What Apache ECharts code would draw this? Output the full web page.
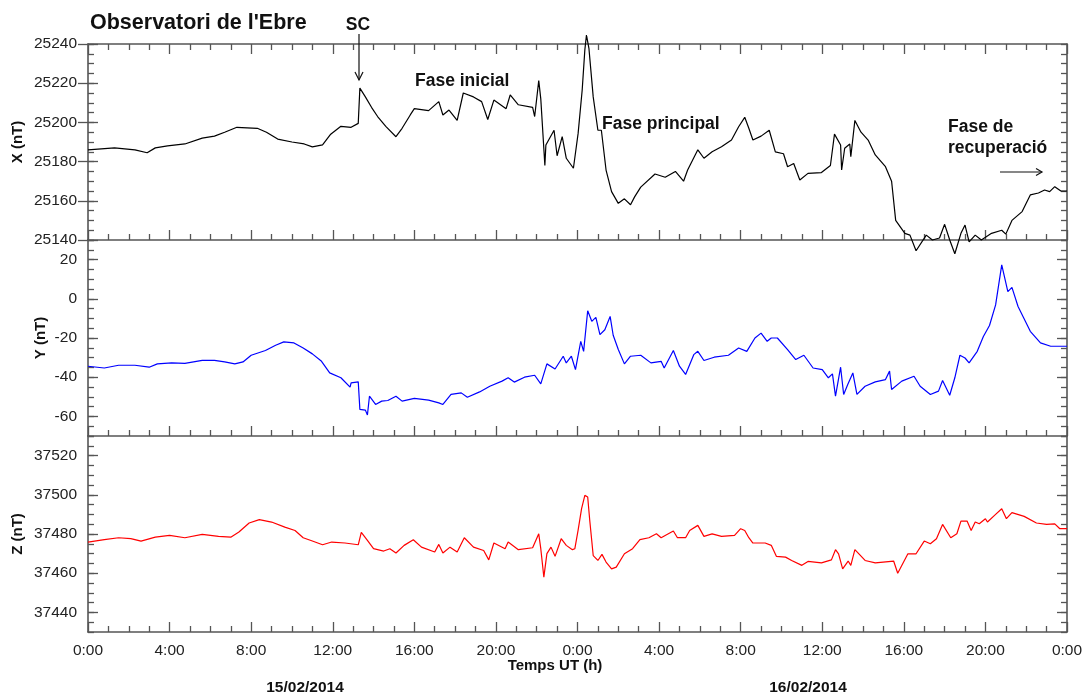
<!DOCTYPE html>
<html><head><meta charset="utf-8">
<script src="https://cdn.jsdelivr.net/npm/echarts@6/dist/echarts.min.js"></script>
<style>html,body{margin:0;padding:0;background:#fff}#c{width:1086px;height:697px}</style>
</head><body><div id="c"></div>
<script>
// ---- data (hours since 15/02/2014 0:00 UT, field in nT) ----
const xHours = [0,1.3,2.3,2.9,3.3,3.9,4.75,5.6,6.2,6.7,7.3,8.3,8.75,9.3,10,10.6,11,11.5,11.9,12.4,12.9,13.25,13.33,13.6,13.9,14.2,14.6,15.1,15.4,15.8,16.0,16.7,17.2,17.4,17.7,18.1,18.4,18.9,19.3,19.6,19.9,20.5,20.7,21.1,21.8,21.9,22.1,22.2,22.4,22.45,22.85,23.0,23.25,23.45,23.8,24.03,24.23,24.36,24.44,24.56,24.77,25.0,25.17,25.4,25.67,26.0,26.3,26.6,26.8,27.1,27.8,28.3,28.8,29.2,29.4,29.9,30.2,30.6,31.06,31.55,31.9,32.2,32.4,32.6,33.0,33.4,33.7,34.1,34.3,34.6,34.9,35.3,35.96,36.4,36.6,36.9,36.95,37.1,37.35,37.4,37.6,37.9,38.25,38.6,39.1,39.4,39.6,40.05,40.3,40.6,41.1,41.4,41.75,42.0,42.25,42.5,42.8,43.0,43.2,43.5,43.8,44.3,44.8,45.0,45.3,45.8,46.2,46.6,46.9,47.15,47.4,47.7,48];
const xValues = [25186,25187,25186,25184.5,25187,25188,25189,25192,25193,25195,25197.5,25197,25195,25191.5,25190,25189,25187.5,25188.5,25194,25198,25197.5,25199.5,25217.5,25213,25207.7,25203,25198,25192.7,25197,25203.8,25207,25206,25210.6,25203.8,25206.3,25201,25215,25213,25210.6,25201.5,25211.4,25207,25214,25209,25207.7,25203,25221.3,25212,25178,25188.5,25196,25183,25192.7,25181.7,25176.6,25194.4,25216.5,25237,25244.6,25237.8,25213,25196,25196,25175.7,25164.7,25158.7,25161,25158,25162,25167,25173.7,25172,25175,25170,25175.7,25186,25181.7,25185,25187.6,25191,25197.8,25202.6,25197,25191,25193,25196,25185,25184,25177.4,25179,25170.6,25174,25174.4,25178,25194,25188.5,25175.7,25186.8,25189,25182.5,25201,25195,25191,25183.4,25177.4,25170,25150,25143.4,25142.5,25134.5,25142.5,25140,25141,25148,25140,25133,25143.4,25147.6,25139,25142.5,25140,25143.4,25145,25143,25150,25154.5,25163,25164,25165.5,25164.7,25167.2,25165,25165];

const yHours = [0,0.8,1.5,2.3,3.0,3.4,4.1,4.75,5.6,6.2,6.7,7.2,7.6,8.0,8.7,9.2,9.6,10.1,10.55,11.0,11.45,11.85,12.4,12.85,12.9,13.25,13.33,13.6,13.7,13.8,14.1,14.4,14.7,15.1,15.4,16.0,16.7,17.2,17.4,17.8,18.3,18.6,19.2,19.7,20.3,20.6,20.9,21.4,21.9,22.2,22.5,22.9,23.3,23.45,23.7,23.9,24.16,24.3,24.5,24.7,24.9,25.1,25.34,25.6,25.75,26.0,26.3,26.6,27.1,27.6,28.1,28.25,28.7,29.0,29.3,29.7,29.9,30.2,30.7,31.4,31.9,32.3,32.7,33.0,33.3,33.5,33.8,34.3,34.7,35.1,35.55,36.0,36.3,36.5,36.65,36.9,37.05,37.25,37.5,37.7,38.1,38.6,39.1,39.3,39.4,39.9,40.5,40.8,41.3,41.7,41.9,42.25,42.5,42.75,43.0,43.2,43.6,43.9,44.2,44.5,44.8,45.1,45.3,45.6,46.2,46.7,47.2,48];
const yValues = [-34.4,-35.3,-33.9,-33.9,-34.9,-33.2,-32.7,-32.9,-31.4,-31.4,-32.2,-33.2,-32.2,-28.8,-26.4,-23.7,-22.0,-22.5,-25.1,-28.1,-31.9,-37.8,-40.3,-45.1,-42.9,-42.4,-56.4,-56.8,-59.3,-49.7,-53.9,-52.2,-51.9,-49.7,-52.2,-50.8,-51.7,-53.1,-53.9,-48.8,-48.0,-50.2,-47.5,-44.6,-42.0,-40.3,-42.5,-40.0,-39.0,-43.4,-33.2,-35.8,-29.3,-32.7,-29.3,-36.1,-21.7,-26.8,-6.1,-11.5,-9.5,-18.3,-15.8,-9.0,-18.6,-25.9,-33.2,-29.3,-28.8,-32.7,-31.9,-35.3,-26.4,-34.4,-38.6,-28.5,-26.8,-31.5,-29.8,-28.8,-25.1,-26.8,-20.0,-17.5,-21.7,-20.0,-20.0,-25.9,-31.0,-28.8,-35.3,-36.1,-40.3,-38.3,-49.7,-34.9,-48.8,-43.7,-37.8,-48.8,-44.6,-42.4,-41.2,-36.9,-46.3,-42.0,-39.5,-44.6,-48.8,-47.1,-41.7,-49.2,-40.3,-28.8,-30.2,-32.7,-26.8,-19.2,-13.6,-3.1,17.3,3.7,5.8,-3.9,-16.6,-22.5,-24.2,-24.2];

const zHours = [0,0.8,1.5,2.1,2.6,3.3,4.0,4.75,5.6,6.4,7.0,7.4,7.9,8.4,9.0,9.65,10.15,10.55,11.0,11.5,11.95,12.6,13.25,13.4,13.7,14.0,14.5,14.8,15.1,15.5,15.95,16.35,17.0,17.2,17.4,17.75,18.1,18.45,18.9,19.4,19.65,19.9,20.45,20.6,21.1,21.8,22.1,22.2,22.35,22.5,22.7,22.9,23.2,23.45,23.75,23.87,24.03,24.2,24.36,24.5,24.6,24.77,25.0,25.2,25.4,25.67,25.9,26.3,26.7,27.06,27.5,27.87,28.1,28.7,28.9,29.3,29.5,29.9,30.2,30.6,31.06,31.7,32.0,32.2,32.4,32.6,33.2,33.5,33.75,34.2,34.5,35.0,35.3,35.96,36.45,36.65,36.8,37.0,37.27,37.4,37.6,38.1,38.6,39.5,39.7,40.2,40.6,41.0,41.3,41.6,41.9,42.3,42.6,42.8,43.1,43.3,43.5,43.7,44.0,44.1,44.5,44.8,45.03,45.3,45.9,46.5,47.0,47.4,47.65,48];
const zValues = [37475.9,37477.1,37478.1,37477.6,37476.4,37478.4,37479.3,37478.1,37479.8,37478.8,37478.4,37481,37485.6,37487.3,37486.1,37483.5,37481.8,37478.1,37476.4,37474.5,37475.9,37475.4,37474.5,37480.8,37476.7,37472.5,37471.3,37472.5,37470.3,37474.2,37477.1,37473.3,37470.8,37474.7,37470.3,37473.3,37470.8,37478.1,37473.3,37471.6,37466.8,37475.4,37472.5,37475.9,37472.0,37473,37480.1,37472.5,37458,37470,37473.3,37468.6,37477.6,37474.2,37472,37472.5,37482,37492.9,37499.7,37498.9,37487,37469,37466.5,37469.6,37465.7,37462.2,37463.1,37469.9,37472.5,37477.1,37478.1,37480.1,37478.1,37481.5,37478.1,37478.1,37481.8,37484.4,37478.8,37480.1,37478.8,37479.3,37482.7,37481.8,37478.1,37475.4,37475.4,37474.2,37468.6,37468.2,37466.5,37464,37466,37465.3,37466.8,37472,37469.9,37462.2,37466.2,37464,37472,37466.5,37465.3,37466.2,37460,37469.9,37469.9,37476.4,37475,37477.6,37484.9,37478.1,37480.1,37486.6,37486.6,37481.8,37486.1,37485.2,37487.8,37486.1,37490,37492.9,37487.8,37490.9,37489,37485.6,37484.9,37485.2,37482.7,37482.7];

const xTicks = [25140,25160,25180,25200,25220,25240];
const yTicks = [-60,-40,-20,0,20];
const zTicks = [37440,37460,37480,37500,37520];

// ---- styling ----
const FONT = '"Liberation Sans", Arial, sans-serif';
const AX = '#555';
const TXT = '#222';

const pairs = (h, v) => h.map((t, i) => [t, v[i]]);

function xAxisFor(grid, position, showLabels) {
  return {
    type: 'value', gridIndex: grid, position, min: 0, max: 48, interval: 4,
    axisLine: { show: true, onZero: false, lineStyle: { color: AX, width: 1.6 } },
    axisTick: { show: true, inside: true, length: 10, lineStyle: { color: AX, width: 1.3 } },
    minorTick: { show: true, splitNumber: 4, length: 6, lineStyle: { color: AX, width: 1.3 } },
    axisLabel: { show: showLabels, formatter: v => (v % 24) + ':00', margin: 11,
      fontSize: 15.5, color: TXT, fontFamily: FONT, showMinLabel: true, showMaxLabel: true },
    splitLine: { show: false }, minorSplitLine: { show: false }
  };
}

function yAxesFor(grid, min, max, majors) {
  const base = { type: 'value', gridIndex: grid, min, max, splitLine: { show: false }, scale: true };
  const line = { show: true, onZero: false, lineStyle: { color: AX, width: 1.6 } };
  const minorT = { show: true, inside: true, length: 6, lineStyle: { color: AX, width: 1.3 } };
  const majorT = { show: true, inside: true, length: 10, customValues: majors, lineStyle: { color: AX, width: 1.3 } };
  return [
    Object.assign({}, base, { position: 'left', interval: 5, axisLine: line, axisTick: minorT, axisLabel: { show: false } }),
    Object.assign({}, base, { position: 'left', axisLine: { show: false }, axisTick: majorT,
      axisLabel: { show: true, customValues: majors, formatter: v => String(v), margin: 11,
        fontSize: 15.5, color: TXT, fontFamily: FONT } }),
    Object.assign({}, base, { position: 'right', interval: 5, axisLine: line, axisTick: minorT, axisLabel: { show: false } }),
    Object.assign({}, base, { position: 'right', axisLine: { show: false }, axisTick: majorT, axisLabel: { show: false } })
  ];
}

const chart = echarts.init(document.getElementById('c'), null, { renderer: 'canvas' });

const bold = s => 'bold ' + s + 'px ' + FONT;
function txt(text, x, y, size, align, rot) {
  return { type: 'text', x, y, rotation: rot || 0, z: 100,
    style: { text, font: bold(size), fill: '#111', align: align || 'left', verticalAlign: 'middle' } };
}
function seg(x1, y1, x2, y2) {
  return { type: 'line', z: 100, shape: { x1, y1, x2, y2 }, style: { stroke: '#111', lineWidth: 1.2 } };
}
function poly(points) {
  return { type: 'polyline', z: 100, shape: { points }, style: { stroke: '#111', lineWidth: 1.2, fill: null } };
}

chart.setOption({
  animation: false,
  backgroundColor: '#fff',
  title: { text: "Observatori de l'Ebre", left: 85, top: 7,
    textStyle: { fontSize: 21.5, fontWeight: 'bold', color: '#111', fontFamily: FONT } },
  grid: [
    { left: 88, right: 19, top: 44, height: 196, outerBoundsMode: 'none' },
    { left: 88, right: 19, top: 240, height: 196, outerBoundsMode: 'none' },
    { left: 88, right: 19, top: 436, height: 196, outerBoundsMode: 'none' }
  ],
  xAxis: [
    xAxisFor(0, 'bottom', false),
    xAxisFor(0, 'top', false),
    xAxisFor(1, 'bottom', false),
    xAxisFor(2, 'bottom', true)
  ],
  yAxis: [].concat(
    yAxesFor(0, 25140, 25240, xTicks),
    yAxesFor(1, -70, 30, yTicks),
    yAxesFor(2, 37430, 37530, zTicks)
  ),
  series: [
    { type: 'line', name: 'X', xAxisIndex: 0, yAxisIndex: 0, data: pairs(xHours, xValues),
      symbol: 'none', clip: false, lineStyle: { color: '#000', width: 1.2 } },
    { type: 'line', name: 'Y', xAxisIndex: 2, yAxisIndex: 4, data: pairs(yHours, yValues),
      symbol: 'none', lineStyle: { color: '#0000ff', width: 1.2 } },
    { type: 'line', name: 'Z', xAxisIndex: 3, yAxisIndex: 8, data: pairs(zHours, zValues),
      symbol: 'none', lineStyle: { color: '#ff0000', width: 1.2 } }
  ],
  graphic: [
    txt('SC', 358, 25, 17.5, 'center'),
    seg(359, 34, 359, 80), poly([[355, 72], [359, 80], [363, 72]]),
    txt('Fase inicial', 415, 81, 17.5),
    txt('Fase principal', 602, 124, 17.5),
    txt('Fase de', 948, 127, 17.5),
    txt('recuperació', 948, 148, 17.5),
    seg(1000, 172, 1042, 172), poly([[1036, 168.5], [1042, 172], [1036, 175.5]]),
    txt('X (nT)', 18, 142, 15, 'center', Math.PI / 2),
    txt('Y (nT)', 41, 338, 15, 'center', Math.PI / 2),
    txt('Z (nT)', 18, 534, 15, 'center', Math.PI / 2),
    txt('Temps UT (h)', 555, 666, 15, 'center'),
    txt('15/02/2014', 305, 688, 15.5, 'center'),
    txt('16/02/2014', 808, 688, 15.5, 'center')
  ]
});
</script>
</body></html>
